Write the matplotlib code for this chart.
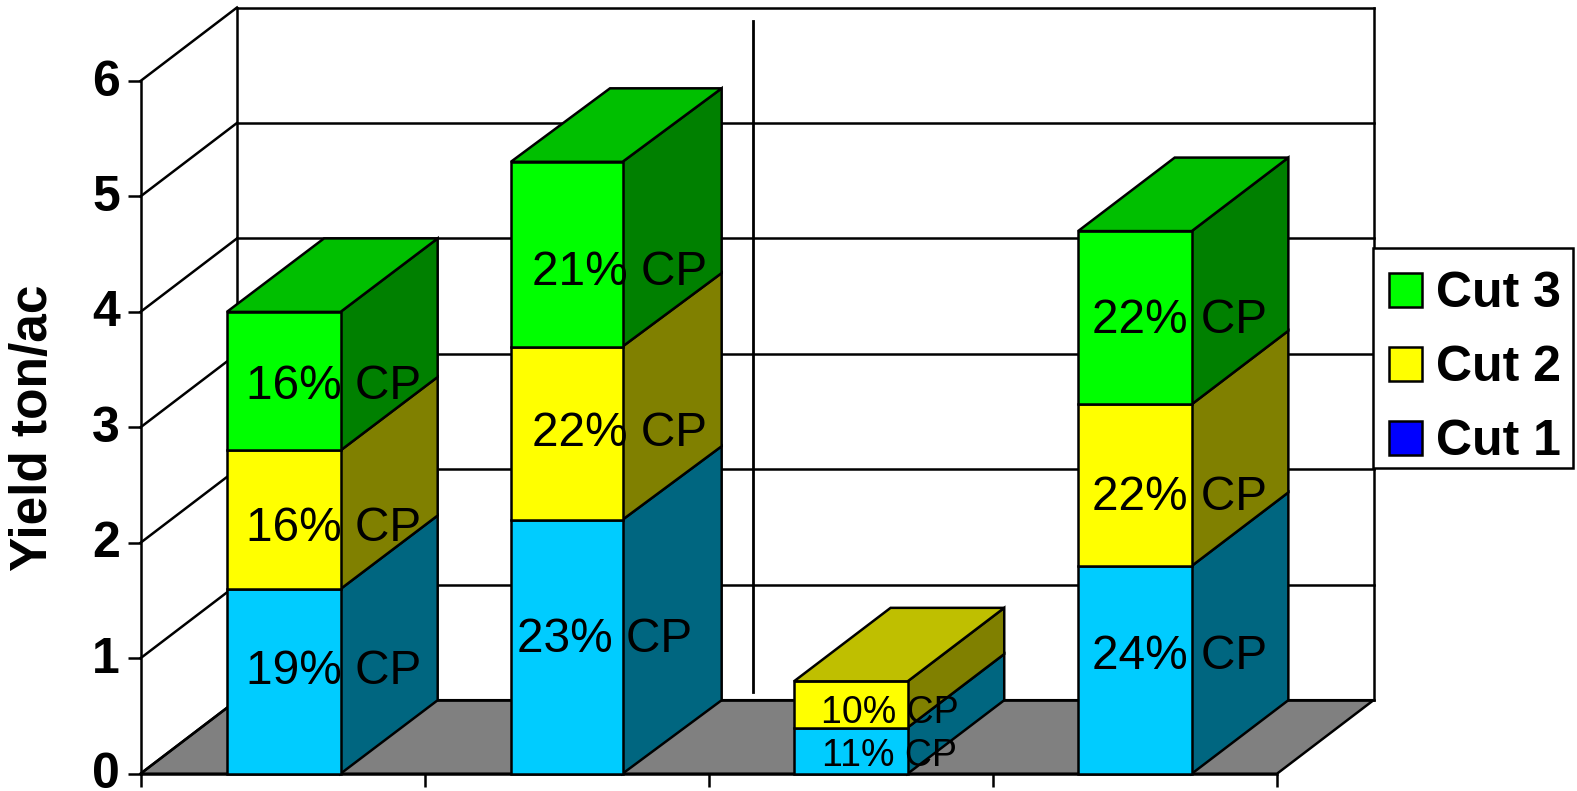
import matplotlib
matplotlib.use("Agg")
import matplotlib.pyplot as plt
from matplotlib.patches import Patch, Polygon, Rectangle
from matplotlib.transforms import ScaledTranslation

plt.rcParams['font.family'] = ['Liberation Sans', 'DejaVu Sans']

# ---- data ----
series_names = ['Cut 1', 'Cut 2', 'Cut 3']
cut1 = [1.6, 2.2, 0.4, 1.8]
cut2 = [1.2, 1.5, 0.4, 1.4]
cut3 = [1.2, 1.6, 0.0, 1.5]
cp1 = ['19% CP', '23% CP', '11% CP', '24% CP']
cp2 = ['16% CP', '22% CP', '10% CP', '22% CP']
cp3 = ['16% CP', '21% CP', None, '22% CP']
y_ticks = [0, 1, 2, 3, 4, 5, 6]

# ---- label placement (data units) ----
lab_x1 = [0.680, 1.632, 2.636, 3.656]
lab_x2 = [0.680, 1.686, 2.636, 3.656]
lab_x3 = [0.680, 1.686, 2.636, 3.656]
lab_y1 = [0.925, 1.205, 0.185, 1.057]
lab_y2 = [2.170, 2.990, 0.560, 2.440]
lab_y3 = [3.400, 4.385, 0.0, 3.965]
lab_size = [34.4, 34.4, 27, 34.4]

# ---- bar layout ----
bar_center = [0.504, 1.5, 2.5, 3.5]
bar_width = [0.4, 0.393, 0.4, 0.4]
bar_depth = [0.342, 0.349, 0.34, 0.34]

# ---- styles ----
front = ['#00CCFF', '#FFFF00', '#00FF00']
side = ['#006680', '#808000', '#008000']
top = ['#0099BF', '#BFBF00', '#00BF00']
legend_col = ['#0000FF', '#FFFF00', '#00FF00']
W, H = 1577, 791
L, R, T, B = 140.5, 1277.0, 81.0, 773.7
DX = 96.5 / ((R - L) / 4)
DY = 73.5 / ((B - T) / 6)
LW = 1.8

fig = plt.figure(figsize=(W / 100, H / 100), dpi=100, facecolor='white')
ax = fig.add_axes([L / W, 1 - B / H, (R - L) / W, (B - T) / H])
ax.patch.set_alpha(0)
ax.set_xlim(0, 4)
ax.set_ylim(0, 6)

for s in ['top', 'right']:
    ax.spines[s].set_visible(False)
for s in ['left', 'bottom']:
    ax.spines[s].set_linewidth(LW)
    ax.spines[s].set_zorder(2.5)

ax.set_xticks([0, 1, 2, 3, 4])
ax.set_xticklabels([])
ax.set_yticks(y_ticks)
ax.set_yticklabels([str(v) for v in y_ticks], fontsize=36, fontweight='bold')
ax.tick_params(axis='both', direction='out', length=9.7, width=LW, pad=5)
nudge = ScaledTranslation(0, 2.5 / 72, fig.dpi_scale_trans)
for lab in ax.get_yticklabels():
    lab.set_transform(lab.get_transform() + nudge)
ax.set_ylabel('Yield ton/ac', fontsize=37, fontweight='bold', va='center')
ax.yaxis.set_label_coords(-0.0945, 0.499)

line_kw = dict(color='black', lw=LW, clip_on=False, solid_capstyle='projecting')

# floor
ax.add_patch(Polygon([(0, 0), (DX, DY), (4 + DX, DY), (4, 0)], closed=True,
                     facecolor='#808080', edgecolor='black', lw=LW,
                     clip_on=False, zorder=1))
# back wall, left wall
for v in y_ticks:
    ax.plot([DX, 4 + DX], [v + DY, v + DY], zorder=1.5, **line_kw)
    ax.plot([0, DX], [v, v + DY], zorder=1.5, **line_kw)
ax.plot([DX, DX], [DY, 6 + DY], zorder=1.5, **line_kw)
ax.plot([4 + DX, 4 + DX], [DY, 6 + DY], zorder=1.5, **line_kw)

# divider between the two groups
ax.plot([2.157, 2.157], [0.708, 6.52], color='black', lw=2.0, clip_on=False,
        zorder=1.6)

# stacked 3-D looking bars
for i in range(4):
    x0 = bar_center[i] - bar_width[i] / 2
    x1 = x0 + bar_width[i]
    d = bar_depth[i]
    base = 0.0
    stack = [cut1[i], cut2[i], cut3[i]]
    for k, val in enumerate(stack):
        if val <= 0:
            continue
        t = base + val
        ax.add_patch(Polygon([(x1, base), (x1 + d, base + DY), (x1 + d, t + DY), (x1, t)],
                             closed=True, facecolor=side[k], edgecolor='black',
                             lw=LW, clip_on=False, zorder=3, joinstyle='miter'))
        ax.add_patch(Polygon([(x0, base), (x1, base), (x1, t), (x0, t)],
                             closed=True, facecolor=front[k], edgecolor='black',
                             lw=LW, clip_on=False, zorder=3.1, joinstyle='miter'))
        if k == 2 or stack[k + 1] <= 0:
            ax.add_patch(Polygon([(x0, t), (x1, t), (x1 + d, t + DY), (x0 + d, t + DY)],
                                 closed=True, facecolor=top[k], edgecolor='black',
                                 lw=LW, clip_on=False, zorder=3.1, joinstyle='miter'))
        base = t

# CP labels
for txts, xs, ys in [(cp1, lab_x1, lab_y1), (cp2, lab_x2, lab_y2), (cp3, lab_x3, lab_y3)]:
    for i in range(4):
        if txts[i] is None:
            continue
        ax.text(xs[i], ys[i], txts[i], fontsize=lab_size[i], ha='center',
                va='center_baseline', color='black', zorder=4, clip_on=False)

# legend: frame drawn separately so its padding can differ by side
fig.add_artist(Rectangle((1372.5 / W, 1 - 468 / H), 200.2 / W, 220.3 / H,
                         transform=fig.transFigure, facecolor='white',
                         edgecolor='black', lw=LW, zorder=9))
handles = [Patch(facecolor=legend_col[k], edgecolor='black', lw=LW, label=series_names[k])
           for k in (2, 1, 0)]
leg = fig.legend(handles=handles, loc='upper left',
                 bbox_to_anchor=(1389 / W, 1 - 271.4 / H), borderaxespad=0,
                 prop={'size': 36, 'weight': 'bold'},
                 frameon=False,
                 handlelength=0.66, handleheight=0.66, handletextpad=0.28,
                 labelspacing=0.56, borderpad=0)
leg.set_zorder(10)

fig.savefig('out.png', dpi=100, facecolor='white')
